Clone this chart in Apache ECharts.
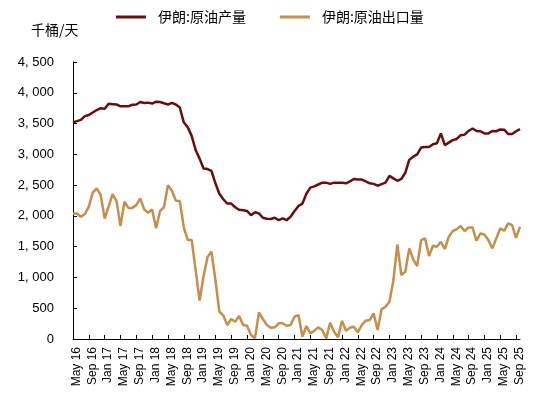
<!DOCTYPE html>
<html>
<head>
<meta charset="utf-8">
<script src="https://cdn.jsdelivr.net/npm/echarts@6/dist/echarts.min.js"></script>
<style>
html,body{margin:0;padding:0;background:#fff;}
#chart{width:550px;height:396px;}
</style>
</head>
<body>
<div id="chart"></div>
<script>
var categories = [
'May 16','Jun 16','Jul 16','Aug 16','Sep 16','Oct 16','Nov 16','Dec 16',
'Jan 17','Feb 17','Mar 17','Apr 17','May 17','Jun 17','Jul 17','Aug 17','Sep 17','Oct 17','Nov 17','Dec 17',
'Jan 18','Feb 18','Mar 18','Apr 18','May 18','Jun 18','Jul 18','Aug 18','Sep 18','Oct 18','Nov 18','Dec 18',
'Jan 19','Feb 19','Mar 19','Apr 19','May 19','Jun 19','Jul 19','Aug 19','Sep 19','Oct 19','Nov 19','Dec 19',
'Jan 20','Feb 20','Mar 20','Apr 20','May 20','Jun 20','Jul 20','Aug 20','Sep 20','Oct 20','Nov 20','Dec 20',
'Jan 21','Feb 21','Mar 21','Apr 21','May 21','Jun 21','Jul 21','Aug 21','Sep 21','Oct 21','Nov 21','Dec 21',
'Jan 22','Feb 22','Mar 22','Apr 22','May 22','Jun 22','Jul 22','Aug 22','Sep 22','Oct 22','Nov 22','Dec 22',
'Jan 23','Feb 23','Mar 23','Apr 23','May 23','Jun 23','Jul 23','Aug 23','Sep 23','Oct 23','Nov 23','Dec 23',
'Jan 24','Feb 24','Mar 24','Apr 24','May 24','Jun 24','Jul 24','Aug 24','Sep 24','Oct 24','Nov 24','Dec 24',
'Jan 25','Feb 25','Mar 25','Apr 25','May 25','Jun 25','Jul 25','Aug 25','Sep 25','Oct 25'
];
var seriesNames = ['伊朗:原油产量', '伊朗:原油出口量'];
var production = [
3520,3540,3560,3620,3640,3680,3720,3750,3740,3820,
3815,3810,3780,3780,3780,3805,3810,3850,3835,3840,
3825,3855,3850,3830,3810,3835,3810,3760,3520,3440,
3300,3070,2930,2770,2760,2730,2530,2360,2270,2200,
2200,2140,2100,2090,2080,2010,2060,2040,1970,1955,
1950,1970,1930,1960,1930,1985,2080,2160,2200,2360,
2460,2480,2510,2540,2540,2520,2540,2540,2540,2530,
2560,2600,2590,2590,2560,2530,2520,2490,2515,2540,
2650,2610,2570,2600,2700,2910,2960,3000,3110,3120,
3120,3165,3180,3340,3150,3190,3230,3250,3310,3320,
3380,3420,3380,3375,3340,3340,3380,3375,3405,3400,
3330,3330,3375,3410
];
var exports = [
2040,2040,1985,2030,2150,2380,2445,2340,1955,2150,
2355,2240,1835,2230,2130,2130,2175,2285,2105,2050,
2105,1800,2080,2140,2500,2410,2245,2240,1815,1610,
1610,1120,625,1020,1330,1420,960,445,380,227,
325,281,373,227,216,65,11,433,325,227,
184,189,254,254,216,227,362,389,38,211,
92,135,189,146,11,265,119,27,297,135,
184,200,108,227,297,308,417,146,482,524,
605,958,1537,1039,1092,1472,1293,1185,1607,1634,
1347,1515,1499,1580,1461,1661,1753,1785,1834,1753,
1813,1813,1596,1715,1699,1607,1472,1634,1797,1758,
1878,1850,1644,1823
];
var yMin = 0, yMax = 4500, yStep = 500;
var unitLabel = '千桶/天';

var FONT = '"Liberation Sans", Arial, "Noto Sans CJK SC", sans-serif';
var CJK = '"Noto Sans CJK SC", "Liberation Sans", sans-serif';
var chart = echarts.init(document.getElementById('chart'), null, {renderer: 'canvas'});
chart.setOption({
  backgroundColor: '#ffffff',
  animation: false,
  title: {
    text: unitLabel,
    left: 26, top: 18,
    textStyle: {fontSize: 14, fontWeight: 'normal', color: '#000', fontFamily: CJK}
  },
  legend: {
    data: seriesNames,
    left: 111, top: 5,
    itemWidth: 30, itemHeight: 3, itemGap: 34,
    icon: 'rect',
    textStyle: {fontSize: 14, color: '#000', fontFamily: CJK, padding: [0, 0, 0, 7]}
  },
  grid: {left: 73, right: 30, top: 62, bottom: 57, containLabel: false},
  xAxis: {
    type: 'category',
    data: categories,
    boundaryGap: false,
    axisLine: {lineStyle: {color: '#000', width: 1}},
    axisTick: {show: true, inside: true, length: 4, interval: 3, lineStyle: {color: '#000'}},
    axisLabel: {
      interval: 3, rotate: 90, margin: 8, fontSize: 12, color: '#000',
      fontFamily: FONT, verticalAlign: 'top', lineHeight: 7
    },
    splitLine: {show: false}
  },
  yAxis: {
    type: 'value',
    min: yMin, max: yMax, interval: yStep,
    axisLine: {show: true, lineStyle: {color: '#000', width: 1}},
    axisTick: {show: true, inside: true, length: 4, lineStyle: {color: '#000'}},
    axisLabel: {
      margin: 19, fontSize: 13, color: '#000', fontFamily: FONT,
      formatter: function (v) {
        var s = String(v);
        if (v >= 1000) s = s.slice(0, s.length - 3) + ', ' + s.slice(-3);
        return s;
      }
    },
    splitLine: {show: false}
  },
  series: [
    {
      name: seriesNames[0], type: 'line', data: production,
      symbol: 'none', lineStyle: {color: '#6E0C0C', width: 2.5},
      itemStyle: {color: '#6E0C0C'}
    },
    {
      name: seriesNames[1], type: 'line', data: exports,
      symbol: 'none', lineStyle: {color: '#C68E4A', width: 2.5},
      itemStyle: {color: '#C68E4A'}
    }
  ]
});
</script>
</body>
</html>
